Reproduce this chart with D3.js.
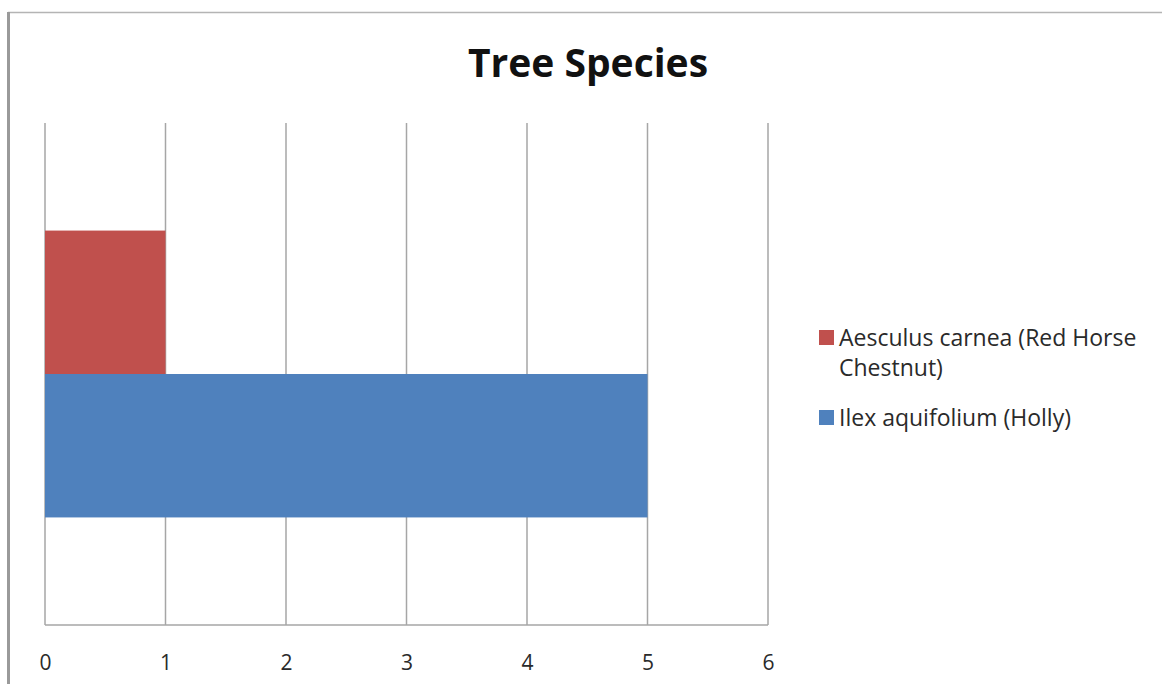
<!DOCTYPE html>
<html>
<head>
<meta charset="utf-8">
<script src="https://cdn.jsdelivr.net/npm/d3@7"></script>
<style>
  body { margin: 0; background: #fff; }
  text { font-family: "Open Sans", Lato, sans-serif; fill: #2a2a2a; }
</style>
</head>
<body>
<div id="chart"></div>
<script>
// data
const categories = ["Trees"];
const seriesNames = ["Ilex aquifolium (Holly)", "Aesculus carnea (Red Horse Chestnut)"];
const seriesValues = [[5], [1]];
const seriesColors = ["#4F81BD", "#C0504D"];
const xTicks = [0, 1, 2, 3, 4, 5, 6];

const width = 1162, height = 684;
const plot = { left: 45, right: 768, top: 123, bottom: 625 };

const svg = d3.select("#chart").append("svg")
  .attr("width", width)
  .attr("height", height);

// outer frame (left + top edge)
svg.append("line").attr("x1", 8).attr("x2", width).attr("y1", 12.5).attr("y2", 12.5)
  .attr("stroke", "#b4b4b4").attr("stroke-width", 1.5);
svg.append("line").attr("x1", 8.5).attr("x2", 8.5).attr("y1", 12).attr("y2", height)
  .attr("stroke", "#9a9a9a").attr("stroke-width", 3);

// scales
const x = d3.scaleLinear().domain([0, 6]).range([plot.left, plot.right]);
const y = d3.scaleBand().domain(categories).range([plot.top, plot.bottom]);
// two bars per category, gap width 150%
const yInner = d3.scaleBand().domain(d3.range(seriesNames.length).reverse())
  .range([0, y.bandwidth()]).paddingOuter(0.75).paddingInner(0);

// gridlines
svg.append("g").selectAll("line").data(xTicks).join("line")
  .attr("x1", d => x(d)).attr("x2", d => x(d))
  .attr("y1", plot.top).attr("y2", plot.bottom)
  .attr("stroke", "#a6a6a6").attr("stroke-width", 1.5);

// bars
seriesValues.forEach((vals, s) => {
  svg.append("g").selectAll("rect").data(vals).join("rect")
    .attr("x", x(0))
    .attr("y", (d, i) => y(categories[i]) + yInner(s))
    .attr("width", d => x(d) - x(0))
    .attr("height", yInner.bandwidth())
    .attr("fill", seriesColors[s]);
});

// x axis
svg.append("line").attr("x1", plot.left).attr("x2", plot.right)
  .attr("y1", plot.bottom).attr("y2", plot.bottom)
  .attr("stroke", "#a6a6a6").attr("stroke-width", 1.5);

const xAxis = d3.axisBottom(x).tickValues(xTicks).tickFormat(d3.format("d")).tickSize(0).tickPadding(0);
const gx = svg.append("g").attr("transform", `translate(0,${plot.bottom + 45})`).call(xAxis);
gx.select(".domain").remove();
gx.selectAll("text")
  .attr("dy", 0)
  .style("font-family", "'Open Sans', Lato, sans-serif")
  .style("font-size", "21px")
  .attr("fill", "#2a2a2a");

// title
svg.append("text")
  .attr("x", 588).attr("y", 77)
  .attr("text-anchor", "middle")
  .style("font-size", "39px").style("font-weight", "bold")
  .style("fill", "#111")
  .text("Tree Species");

// legend (Excel lists bar series top to bottom in reverse)
const legendItems = [
  { lines: ["Aesculus carnea (Red Horse", "Chestnut)"], color: seriesColors[1] },
  { lines: ["Ilex aquifolium (Holly)"], color: seriesColors[0] }
];
const lgY = [346, 426];
legendItems.forEach((it, i) => {
  const g = svg.append("g");
  g.append("rect").attr("x", 819).attr("y", lgY[i] - 16).attr("width", 15).attr("height", 15)
    .attr("fill", it.color);
  it.lines.forEach((t, j) => {
    g.append("text").attr("x", 839).attr("y", lgY[i] + j * 30)
      .style("font-size", "23px").text(t);
  });
});
</script>
</body>
</html>
